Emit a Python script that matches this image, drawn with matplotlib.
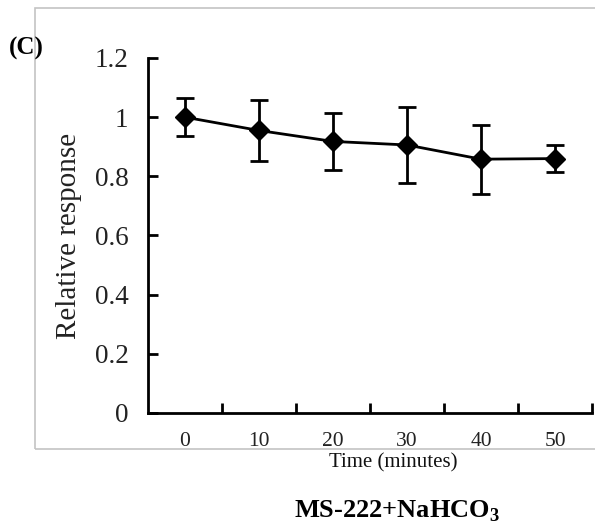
import matplotlib
matplotlib.use("Agg")
import matplotlib.pyplot as plt
from matplotlib.patches import Rectangle

# Relative response over time (mean +/- error)
times = ["0", "10", "20", "30", "40", "50"]
response = [1.00, 0.955, 0.918, 0.906, 0.858, 0.860]
error = [0.065, 0.104, 0.097, 0.130, 0.117, 0.047]

plt.rcParams["font.family"] = ["Liberation Serif", "DejaVu Serif"]
plt.rcParams["mathtext.fontset"] = "custom"
plt.rcParams["mathtext.rm"] = "Liberation Serif"
plt.rcParams["mathtext.bf"] = "Liberation Serif:bold"

fig = plt.figure(figsize=(5.95, 5.31), dpi=100)

# light grey frame around the plot area
fig.patches.append(Rectangle((35 / 595, 1 - 449 / 531), 0.99, (449 - 8) / 531,
                             transform=fig.transFigure, fill=False,
                             edgecolor="#c4c4c4", linewidth=1.2))

ax = fig.add_axes([148 / 595, 1 - 413 / 531, (592 - 148) / 595, (413 - 58) / 531])

pos = list(range(len(times)))
ax.errorbar(pos, response, yerr=error, color="black", linewidth=2,
            marker="D", markersize=10, capsize=6.5, capthick=2, elinewidth=2)

ax.set_xlim(-0.5, len(times) - 0.5)
ax.set_ylim(0, 1.2)

# ticks between categories, labels at the centres
ax.set_xticks([p + 0.5 for p in pos])
ax.set_xticklabels([])
ax.set_xticks(pos, minor=True)
ax.set_xticklabels(times, minor=True)
ax.tick_params(axis="x", which="major", direction="in", length=7, width=2)
ax.tick_params(axis="x", which="minor", length=0, pad=14, labelsize=15.5, labelcolor="#222222")

ax.set_yticks([0, 0.2, 0.4, 0.6, 0.8, 1.0, 1.2])
ax.set_yticklabels(["0", "0.2", "0.4", "0.6", "0.8", "1", "1.2"])
ax.tick_params(axis="y", direction="in", length=7, width=2, pad=14,
               labelsize=19.5, labelcolor="#222222")

for side in ["top", "right"]:
    ax.spines[side].set_visible(False)
for side in ["left", "bottom"]:
    ax.spines[side].set_linewidth(2)

ax.set_ylabel("Relative response", fontsize=21, color="#222222")
ax.yaxis.set_label_coords(-0.148, 0.5)

fig.text(393 / 595, 1 - 463 / 531, "Time (minutes)", ha="center", va="center",
         fontsize=15, color="#111111")
fig.text(397 / 595, 1 - 511 / 531, r"MS-222+NaHCO$_\mathbf{3}$", ha="center", va="center",
         fontsize=19, fontweight="bold")
fig.text(9 / 595, 1 - 48 / 531, "(C)", ha="left", va="center",
         fontsize=18, fontweight="bold")

fig.savefig("out.png", dpi=100)
